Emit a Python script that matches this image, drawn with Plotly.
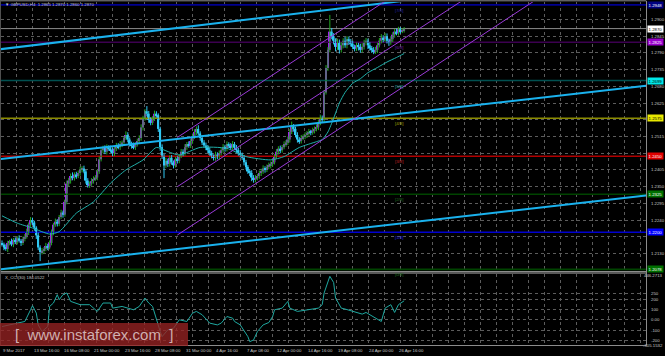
import plotly.graph_objects as go

# ---------------- data ----------------
closes = [
    1.2160, 1.2150, 1.2145, 1.2165, 1.2170, 1.2160, 1.2175, 1.2168, 1.2180, 1.2172,
    1.2165, 1.2178, 1.2185, 1.2200, 1.2225, 1.2240, 1.2232, 1.2215, 1.2190, 1.2150,
    1.2135, 1.2140, 1.2145, 1.2155, 1.2150, 1.2165, 1.2200, 1.2225, 1.2235, 1.2228,
    1.2250, 1.2265, 1.2258, 1.2300, 1.2360, 1.2370, 1.2385, 1.2378, 1.2390, 1.2385,
    1.2395, 1.2405, 1.2410, 1.2400, 1.2370, 1.2355, 1.2360, 1.2368, 1.2375, 1.2380,
    1.2400, 1.2440, 1.2470, 1.2478, 1.2465, 1.2480, 1.2475, 1.2470, 1.2460, 1.2475,
    1.2485, 1.2480, 1.2490, 1.2495, 1.2510, 1.2520, 1.2505, 1.2490, 1.2485, 1.2480,
    1.2490, 1.2500, 1.2510, 1.2545, 1.2575, 1.2598, 1.2590, 1.2570, 1.2560, 1.2575,
    1.2590, 1.2585, 1.2540, 1.2480, 1.2450, 1.2420, 1.2435, 1.2425, 1.2445, 1.2430,
    1.2420, 1.2440, 1.2435, 1.2450, 1.2465, 1.2460, 1.2480, 1.2490, 1.2485, 1.2500,
    1.2515, 1.2530, 1.2540, 1.2525, 1.2510, 1.2495, 1.2485, 1.2480, 1.2470, 1.2460,
    1.2450, 1.2445, 1.2455, 1.2448, 1.2460, 1.2470, 1.2480, 1.2475, 1.2490, 1.2485,
    1.2480, 1.2490, 1.2478, 1.2470, 1.2460, 1.2455, 1.2445, 1.2430, 1.2415, 1.2400,
    1.2395, 1.2380, 1.2372, 1.2378, 1.2385, 1.2395, 1.2400, 1.2410, 1.2405, 1.2415,
    1.2420, 1.2425, 1.2430, 1.2450, 1.2465, 1.2475, 1.2470, 1.2480, 1.2490, 1.2495,
    1.2505, 1.2530, 1.2548, 1.2540, 1.2520, 1.2505, 1.2500, 1.2510, 1.2515, 1.2520,
    1.2525, 1.2530, 1.2528, 1.2535, 1.2540, 1.2545, 1.2560, 1.2575, 1.2570, 1.2660,
    1.2740, 1.2800, 1.2860, 1.2845, 1.2830, 1.2810, 1.2825, 1.2800, 1.2815, 1.2830,
    1.2815, 1.2835, 1.2828, 1.2820, 1.2810, 1.2805, 1.2815, 1.2810, 1.2800, 1.2810,
    1.2825, 1.2830, 1.2815, 1.2805, 1.2800, 1.2795, 1.2800, 1.2815, 1.2830, 1.2840,
    1.2835, 1.2845, 1.2830, 1.2825, 1.2835, 1.2850, 1.2860, 1.2855, 1.2868, 1.2862,
    1.2865, 1.2870,
]
first_open = 1.2165

wick_up_pips = [
    8, 6, 10, 7, 5, 9, 6, 8, 7, 10, 6, 8, 9, 12, 7, 10, 8, 6, 5, 9,
    7, 8, 6, 10, 7, 8, 9, 6, 10, 8, 7, 9, 6, 8, 10, 9, 8, 12, 7, 9,
    8, 10, 7, 9, 6, 8, 7, 10, 9, 8, 6, 9, 10, 7, 8, 9, 6, 10, 8, 7,
    9, 8, 10, 7, 6, 12, 9, 7, 8, 10, 6, 8, 9, 10, 8, 7, 17, 9, 8, 7,
    10, 8, 6, 7, 9, 8, 10, 7, 8, 9, 6, 8, 10, 7, 9, 8, 10, 7, 9, 8,
    10, 9, 8, 12, 7, 9, 8, 10, 7, 9, 8, 6, 10, 8, 9, 7, 10, 8, 9, 6,
    8, 10, 7, 9, 8, 10, 7, 9, 8, 6, 7, 9, 8, 10, 7, 8, 9, 10, 7, 8,
    9, 8, 10, 7, 9, 8, 10, 7, 9, 8, 10, 9, 16, 8, 7, 9, 8, 10, 7, 9,
    8, 10, 7, 9, 8, 10, 11, 12, 9, 8, 10, 9, 55, 12, 10, 8, 12, 9, 10, 8,
    12, 10, 9, 8, 10, 7, 9, 8, 10, 12, 8, 9, 7, 10, 8, 9, 10, 8, 9, 12,
    8, 10, 9, 7, 10, 8, 9, 10, 8, 7, 6, 5,
]
wick_dn_pips = [
    7, 9, 6, 10, 8, 6, 9, 7, 8, 6, 10, 7, 8, 6, 9, 7, 8, 10, 12, 9,
    30, 8, 10, 7, 9, 6, 8, 10, 7, 9, 8, 6, 10, 7, 8, 9, 10, 7, 8, 9,
    7, 9, 8, 6, 10, 8, 9, 7, 8, 6, 9, 8, 7, 10, 8, 9, 7, 8, 10, 9,
    8, 7, 9, 10, 8, 6, 9, 8, 10, 7, 9, 8, 6, 9, 10, 8, 9, 10, 8, 7,
    9, 8, 10, 12, 9, 42, 8, 10, 9, 8, 10, 7, 9, 8, 6, 10, 8, 9, 7, 8,
    9, 8, 10, 7, 9, 8, 6, 10, 9, 8, 7, 9, 10, 8, 9, 7, 8, 10, 9, 8,
    7, 9, 8, 10, 8, 9, 7, 10, 9, 8, 10, 12, 9, 8, 7, 9, 10, 8, 9, 7,
    8, 10, 9, 7, 8, 9, 10, 8, 7, 9, 8, 10, 7, 9, 8, 10, 9, 8, 7, 9,
    10, 8, 9, 7, 10, 8, 9, 8, 10, 9, 7, 9, 8, 10, 12, 15, 10, 12, 9, 10,
    8, 10, 12, 9, 8, 10, 9, 12, 10, 8, 9, 10, 12, 8, 10, 9, 8, 10, 7, 9,
    10, 8, 9, 12, 8, 9, 10, 7, 8, 9, 7, 8,
]

# moving average vertices (bar index, price)
ma_bars = [0, 8, 16, 25, 30, 39, 48, 57, 65, 74, 81, 86, 93, 104, 118, 128, 141, 148,
           156, 165, 168, 171, 174, 177, 180, 184, 188, 192, 197, 202, 207, 211]
ma_vals = [1.2254, 1.2230, 1.2214, 1.2194, 1.2202, 1.2263, 1.2300, 1.2362, 1.2405, 1.2438,
           1.2479, 1.2468, 1.2454, 1.2479, 1.2476, 1.2449, 1.2438, 1.2449, 1.2479, 1.2498,
           1.2505, 1.2530, 1.2575, 1.2625, 1.2660, 1.2690, 1.2705, 1.2725, 1.2742, 1.2760,
           1.2775, 1.2788]

# CCI(30) vertices (bar index, value)
cci_bars = [0, 9, 12, 15, 16, 18, 19, 21, 24, 25, 27, 29, 30, 32, 34, 36, 41, 46, 50, 53,
            57, 58, 63, 69, 72, 75, 77, 79, 81, 83, 84, 87, 90, 92, 93, 97, 100, 102, 105,
            109, 113, 115, 118, 121, 122, 125, 129, 130, 132, 134, 137, 140, 142, 143, 147,
            150, 151, 155, 162, 166, 168, 169, 172, 174, 175, 178, 180, 184, 189, 191, 194,
            196, 199, 201, 204, 206, 208, 211]
cci_vals = [-65, -30, -16, 97, 136, 65, -50, -113, -65, 129, 162, 243, 194, 243, 259, 178,
            146, 146, 81, 162, 162, 113, 129, 97, 129, 210, 162, 129, 0, -113, -162, -97,
            -81, -32, 0, -16, 65, 81, 49, -32, -49, -32, 32, 16, -16, -49, -162, -211, -194,
            -113, -49, -26, 32, 97, 113, 178, 113, 81, 97, 113, 146, 259, 420, 360, 210, 113,
            104, 81, 55, 71, 39, 16, -16, 113, 146, 71, 146, 184]

time_label_bars = [0, 16, 32, 48, 64, 80, 96, 112, 128, 144, 160, 176, 192, 208]
time_labels = ["9 Mar 2017", "13 Mar 16:00", "16 Mar 08:00", "21 Mar 00:00", "23 Mar 16:00",
               "28 Mar 08:00", "31 Mar 00:00", "4 Apr 16:00", "7 Apr 08:00", "12 Apr 00:00",
               "14 Apr 16:00", "19 Apr 08:00", "24 Apr 00:00", "26 Apr 16:00"]

price_ticks = [1.2130, 1.2185, 1.2240, 1.2295, 1.2350, 1.2405, 1.2460, 1.2515, 1.2570,
               1.2625, 1.2680, 1.2735, 1.2790, 1.2845, 1.2900]
cci_ticks = [250, 200, 100, 0, -100, -200]
cci_tick_text = ["250", "200", "100", "0.00", "-100", "-200"]
cci_max_label = "446.2713"
cci_min_label = "-305.1532"

level_prices = [1.2948, 1.2825, 1.2699, 1.2575, 1.2450, 1.2325, 1.2200, 1.2078]
level_tags = ["[7/8]", "[6/8]", "[5/8]", "[4/8]", "[3/8]", "[2/8]", "[1/8]", "[0/8]"]
bid_price = 1.2870

# trend lines: (bar0, price0, bar1, price1)
blue_lines = [(-1.05, 1.2802, 337.9, 1.3057),
              (-1.05, 1.2441, 337.9, 1.2682),
              (-1.05, 1.2078, 337.9, 1.2321)]
channel_lines = [(92, 1.2512, 210, 1.2997),
                 (92, 1.2350, 250, 1.2997),
                 (92, 1.2191, 288, 1.2997)]

title_text = "▼ GBPUSD,H4  1.2865 1.2870 1.2860 1.2870"
cci_title = "X_CCI(30) 184.0522"

# ---------------- styles / geometry ----------------
W, H = 665, 356
PX_PER_BAR = 1.906
BAR0_PX = 2.0
PLOT_L, PLOT_R = 1.0, 646.0
MAIN_T, MAIN_B = 2.0, 271.0
CCI_T, CCI_B = 273.5, 345.0
REF_PRICE, REF_Y, PX_PER_UNIT = 1.2515, 136.5, 3040.0
FS = 4.3

def px_to_bar(px):
    return (px - BAR0_PX) / PX_PER_BAR

def y_to_price(y):
    return REF_PRICE + (REF_Y - y) / PX_PER_UNIT

def price_to_y(p):
    return REF_Y - (p - REF_PRICE) * PX_PER_UNIT

def py(y):
    return (H - y) / H

BULL = "#a020f0"
BEAR = "#30c8f4"
WICK_UP = "#22a822"
TXT = "#c8c8c8"
GRID = "#5c5c5c"
level_line_colors = ["#000090", "#3c0050", "#005050", "#8c8c00", "#b00000", "#004400", "#0000d0", "#004400"]
level_box_colors = ["#000080", "#9900cc", "#00e8e8", "#e8e800", "#e00000", "#007000", "#0000ff", "#007000"]
level_box_text = ["#ffffff", "#ffffff", "#000000", "#000000", "#ffffff", "#ffffff", "#ffffff", "#ffffff"]
level_tag_colors = ["#2020a0", "#7020a0", "#20a0a0", "#a0a000", "#c02020", "#207020", "#2020e0", "#207020"]

n = len(closes)
bars = list(range(n))
opens = [first_open] + closes[:-1]
highs = [max(o, c) + w / 10000 for o, c, w in zip(opens, closes, wick_up_pips)]
lows = [min(o, c) - w / 10000 for o, c, w in zip(opens, closes, wick_dn_pips)]

fig = go.Figure()

xl, xrr = px_to_bar(PLOT_L) - 5, px_to_bar(PLOT_R) + 5
# level lines (under everything)
for p, col in zip(level_prices, level_line_colors):
    fig.add_trace(go.Scatter(x=[xl, xrr], y=[p, p], mode="lines",
                             line=dict(color=col, width=1.6), hoverinfo="skip", showlegend=False))
fig.add_trace(go.Scatter(x=[xl, xrr], y=[bid_price, bid_price],
                         mode="lines", line=dict(color="#8a8a8a", width=1), hoverinfo="skip", showlegend=False))

# wicks
for bull in (True, False):
    wx, wy = [], []
    for i in bars:
        if (closes[i] >= opens[i]) == bull:
            wx += [i, i, None]
            wy += [lows[i], highs[i], None]
    fig.add_trace(go.Scatter(x=wx, y=wy, mode="lines",
                             line=dict(color=WICK_UP if bull else BEAR, width=1),
                             hoverinfo="skip", showlegend=False))

# bodies
bases = [min(o, c) for o, c in zip(opens, closes)]
heights = [max(abs(c - o), 0.0001) for o, c in zip(opens, closes)]
colors = [BULL if c >= o else BEAR for o, c in zip(opens, closes)]
fig.add_trace(go.Bar(x=bars, y=heights, base=bases, width=0.95, marker=dict(color=colors, line=dict(width=0)),
                     hoverinfo="skip", showlegend=False))

# moving average
fig.add_trace(go.Scatter(x=ma_bars, y=ma_vals, mode="lines",
                         line=dict(color="#20b0aa", width=1, shape="spline", smoothing=0.6),
                         hoverinfo="skip", showlegend=False))

# trend lines
for x0, y0, x1, y1 in blue_lines:
    fig.add_trace(go.Scatter(x=[x0, x1], y=[y0, y1], mode="lines", line=dict(color="#1ab2ee", width=2),
                             hoverinfo="skip", showlegend=False))
for x0, y0, x1, y1 in channel_lines:
    fig.add_trace(go.Scatter(x=[x0, x1], y=[y0, y1], mode="lines", line=dict(color="#9a3ad8", width=1),
                             hoverinfo="skip", showlegend=False))

# CCI
fig.add_trace(go.Scatter(x=cci_bars, y=cci_vals, mode="lines", line=dict(color="#1fa8a0", width=1),
                         xaxis="x2", yaxis="y2", hoverinfo="skip", showlegend=False))

# ---------------- axes ----------------
xr = [px_to_bar(PLOT_L), px_to_bar(PLOT_R)]
grid_bars = [px_to_bar(16 * k) for k in range(1, 41)]
xdom = [PLOT_L / W, PLOT_R / W]
axis_common = dict(range=xr, domain=xdom, tickvals=grid_bars, showticklabels=False, ticks="",
                   showgrid=True, gridcolor=GRID, griddash="dot", gridwidth=1, zeroline=False,
                   showline=False, fixedrange=True)

# price labels hidden where a coloured level box sits on top of them
box_ys = [price_to_y(p) for p in level_prices + [bid_price]]
price_tick_text = [f"{t:.4f}" if min(abs(price_to_y(t) - b) for b in box_ys) > 4.6 else "" for t in price_ticks]

fig.update_layout(
    width=W, height=H, margin=dict(l=0, r=0, t=0, b=0),
    paper_bgcolor="#000000", plot_bgcolor="#000000",
    barmode="overlay", showlegend=False,
    font=dict(family="Liberation Sans, Arial, sans-serif", size=FS, color=TXT),
    xaxis=dict(anchor="y", **axis_common),
    xaxis2=dict(anchor="y2", matches="x", **axis_common),
    yaxis=dict(domain=[py(MAIN_B), py(MAIN_T)], range=[y_to_price(MAIN_B), y_to_price(MAIN_T)],
               side="right", tickvals=price_ticks, ticktext=price_tick_text, ticks="",
               tickfont=dict(size=FS, color=TXT), ticklabelstandoff=4,
               showgrid=True, gridcolor=GRID, griddash="dot", zeroline=False, fixedrange=True),
    yaxis2=dict(domain=[py(CCI_B), py(CCI_T)], range=[-243, 447], side="right",
                tickvals=cci_ticks, ticktext=cci_tick_text, ticks="",
                tickfont=dict(size=FS, color=TXT), ticklabelstandoff=4,
                showgrid=True, gridcolor=GRID, griddash="dot", zeroline=False, fixedrange=True),
)

shapes = []
frame = "#8c8c8c"
shapes.append(dict(type="line", xref="paper", yref="paper", x0=0, x1=PLOT_R / W, y0=py(0.8), y1=py(0.8),
                   line=dict(color=frame, width=1)))
shapes.append(dict(type="line", xref="paper", yref="paper", x0=0, x1=PLOT_R / W, y0=py(MAIN_B + 0.5), y1=py(MAIN_B + 0.5),
                   line=dict(color=frame, width=1)))
shapes.append(dict(type="line", xref="paper", yref="paper", x0=0, x1=PLOT_R / W, y0=py(CCI_T - 0.5), y1=py(CCI_T - 0.5),
                   line=dict(color="#b0b0b0", width=1.2)))
shapes.append(dict(type="line", xref="paper", yref="paper", x0=0, x1=PLOT_R / W, y0=py(CCI_B + 0.5), y1=py(CCI_B + 0.5),
                   line=dict(color=frame, width=1)))
shapes.append(dict(type="line", xref="paper", yref="paper", x0=(PLOT_R + 0.5) / W, x1=(PLOT_R + 0.5) / W,
                   y0=py(CCI_B + 0.5), y1=py(0.8), line=dict(color=frame, width=1)))
shapes.append(dict(type="line", xref="paper", yref="paper", x0=0.5 / W, x1=0.5 / W,
                   y0=py(CCI_B + 0.5), y1=py(0.8), line=dict(color="#505050", width=1)))
# watermark box
shapes.append(dict(type="rect", xref="paper", yref="paper", x0=0, x1=188 / W, y0=py(346), y1=py(323),
                   fillcolor="rgba(150,35,35,0.78)", line=dict(width=0), layer="above"))
fig.update_layout(shapes=shapes)

ann = []
ann.append(dict(text=title_text, xref="paper", yref="paper", x=3 / W, y=py(5), xanchor="left", yanchor="middle",
                showarrow=False, font=dict(size=FS, color=TXT)))
ann.append(dict(text=cci_title, xref="paper", yref="paper", x=3 / W, y=py(277.5), xanchor="left", yanchor="middle",
                showarrow=False, font=dict(size=FS, color=TXT)))
for b, t in zip(time_label_bars, time_labels):
    ann.append(dict(text=t, x=b, xref="x2", yref="paper", y=py(350.5), xanchor="left", yanchor="middle",
                    xshift=-1, showarrow=False, font=dict(size=FS, color=TXT)))
for p, tag, tc, bc, btc in zip(level_prices, level_tags, level_tag_colors, level_box_colors, level_box_text):
    ann.append(dict(text=tag, x=205, xref="x", y=p, yref="y", xanchor="left", yanchor="top", yshift=-1,
                    showarrow=False, font=dict(size=FS, color=tc)))
    ann.append(dict(text=f"{p:.4f}", xref="paper", x=(PLOT_R + 1) / W, y=p, yref="y", xanchor="left",
                    yanchor="middle", showarrow=False, bgcolor=bc, borderpad=0.6,
                    font=dict(size=FS, color=btc)))
ann.append(dict(text=f"{bid_price:.4f}", xref="paper", x=(PLOT_R + 1) / W, y=bid_price, yref="y", xanchor="left",
                yanchor="middle", showarrow=False, bgcolor="#ffffff", borderpad=0.6,
                font=dict(size=FS, color="#000000")))
ann.append(dict(text=cci_max_label, xref="paper", x=1, y=py(275.8), yref="paper", xanchor="right",
                yanchor="middle", showarrow=False, font=dict(size=FS, color=TXT)))
ann.append(dict(text=cci_min_label, xref="paper", x=1, y=py(345.2), yref="paper", xanchor="right",
                yanchor="middle", showarrow=False, font=dict(size=FS, color=TXT)))
ann.append(dict(text="[  www.instaforex.com  ]", xref="paper", yref="paper", x=94 / W, y=py(334.5),
                xanchor="center", yanchor="middle", showarrow=False,
                font=dict(size=15, color="rgba(225,205,205,0.85)", family="Liberation Sans, Arial, sans-serif")))
fig.update_layout(annotations=ann)

fig.write_html("out.html")
